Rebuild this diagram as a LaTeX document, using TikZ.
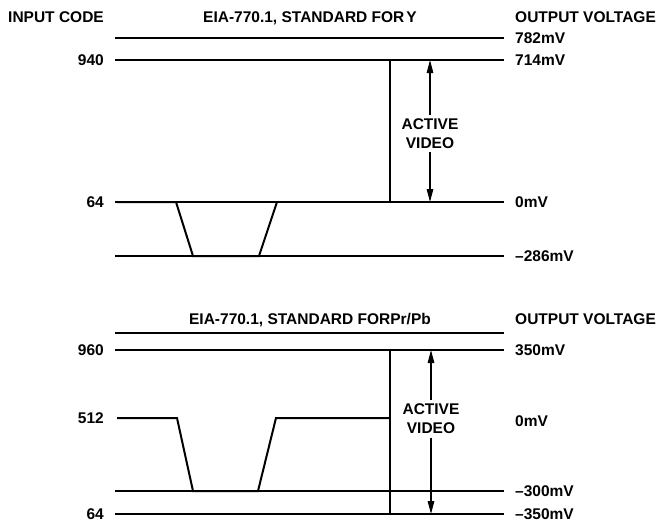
\documentclass[tikz,border=0pt]{standalone}
\usepackage{fontspec}
\setmainfont{Liberation Sans}
\usetikzlibrary{arrows.meta,positioning}
\newcommand{\chartfont}{\fontsize{15.5}{19}\selectfont\bfseries}
\tikzset{
  level/.style={draw,line width=2pt},
  wave/.style={draw,line width=2pt,line join=miter},
  marker/.style={draw,line width=2pt},
  span/.style={draw,line width=1.3pt,-{Triangle[length=13pt,width=6.5pt]}},
  txt/.style={inner sep=0pt,text height=11.1pt,text depth=0pt,font=\chartfont}
}

\begin{document}
\begin{tikzpicture}[
    x=1pt,y=-1pt,
    node distance=11pt,
    codelabel/.style={txt,anchor=east},
    voltlabel/.style={txt,anchor=west},
    activebox/.style={font=\chartfont,fill=white,align=center,inner sep=3.5pt}
]
\useasboundingbox (0,0) rectangle (657,525);

% =========================================================
% Upper chart: Y
% =========================================================

\node[txt,anchor=east] (inY) at (104,17) {INPUT CODE};
\node[txt] (titleY) at (310,17) {EIA-770.1, STANDARD FOR\kern2pt Y};
\node[txt,anchor=west] (outY) at (515,17) {OUTPUT VOLTAGE};

\coordinate (l782a) at (115,38);  \coordinate (l782b) at (504,38);
\coordinate (l940a) at (115,60);  \coordinate (l940b) at (504,60);
\coordinate (l64a)  at (115,202); \coordinate (l64b)  at (504,202);
\coordinate (lsyna) at (115,256); \coordinate (lsynb) at (504,256);

\node[codelabel,left=of l940a] (c940) {940};
\node[codelabel,left=of l64a] (c64y) {64};
\node[voltlabel,right=of l782b] (v782) {782mV};
\node[voltlabel,right=of l940b] (v714) {714mV};
\node[voltlabel,right=of l64b] (v0y) {0mV};
\node[voltlabel,right=of lsynb] (v286) {–286mV};

\draw[level] (l782a) -- (l782b);
\draw[level] (l940a) -- (l940b);
\draw[level] (l64a) -- (l64b);
\draw[level] (lsyna) -- (lsynb);

% sync pulse
\draw[wave] (117,202) -- (176,202) -- (193,256) -- (259,256) -- (277,202);

\draw[marker] (390,60) -- (390,202);

\node[activebox] (avY) at (430,133.5) {ACTIVE\\VIDEO};
\draw[span] (avY.north) -- (430,60);
\draw[span] (avY.south) -- (430,202);

% =========================================================
% Lower chart: Pr/Pb
% =========================================================

\node[txt] (titleP) at (310,319) {EIA-770.1, STANDARD FORPr/Pb};
\node[txt,anchor=west] (outP) at (515,319) {OUTPUT VOLTAGE};

\coordinate (ltopa) at (115,333); \coordinate (ltopb) at (504,333);
\coordinate (l960a) at (115,350); \coordinate (l960b) at (504,350);
\coordinate (l512a) at (115,418);
\coordinate (l300a) at (115,491); \coordinate (l300b) at (504,491);
\coordinate (l64pa) at (115,514); \coordinate (l64pb) at (504,514);

\node[codelabel,left=of l960a] (c960) {960};
\node[codelabel,left=of l512a] (c512) {512};
\node[codelabel,left=of l64pa] (c64p) {64};
\node[voltlabel,right=of l960b] (v350) {350mV};
\node[voltlabel] (v0p) at (515,421) {0mV};
\node[voltlabel,right=of l300b] (v300) {–300mV};
\node[voltlabel,right=of l64pb] (v350n) {–350mV};

\draw[level] (ltopa) -- (ltopb);
\draw[level] (l960a) -- (l960b);
\draw[level] (l300a) -- (l300b);
\draw[level] (l64pa) -- (l64pb);

% sync pulse from mid level
\draw[wave] (117,418) -- (177,418) -- (193,491) -- (258,491) -- (276,418) -- (390,418);

\draw[marker] (390,350) -- (390,514);

\node[activebox] (avP) at (431,419) {ACTIVE\\VIDEO};
\draw[span] (avP.north) -- (431,350);
\draw[span] (avP.south) -- (431,514);

\end{tikzpicture}
\end{document}
